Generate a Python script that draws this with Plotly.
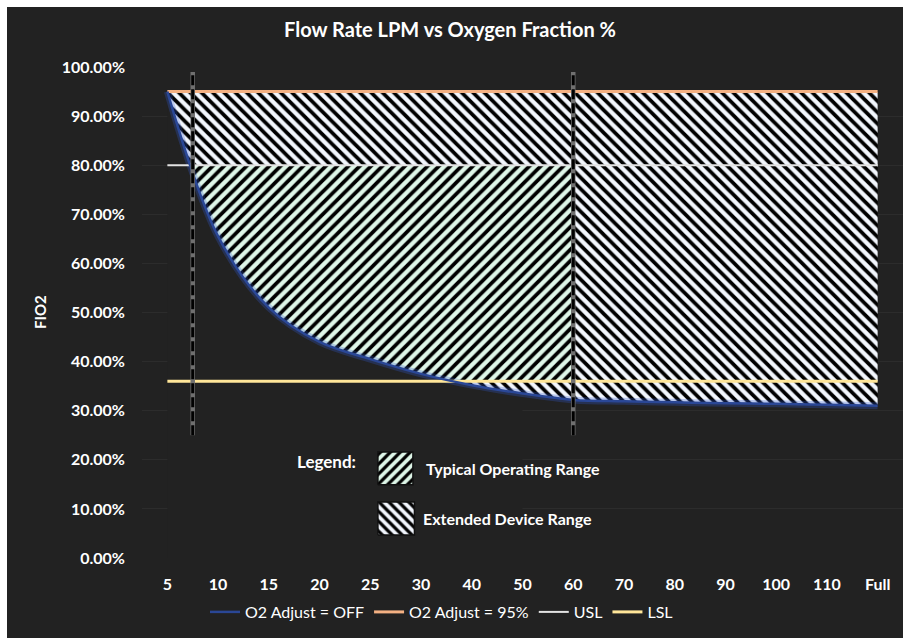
import numpy as np
import plotly.graph_objects as go

# ---- data -------------------------------------------------------------
flow_labels = ["5", "10", "15", "20", "25", "30", "40", "50", "60",
               "70", "80", "90", "100", "110", "Full"]
flow_lpm = [5, 10, 15, 20, 25, 30, 40, 50, 60, 70, 80, 90, 100, 110]
fio2_o2_off = [0.950, 0.655, 0.510, 0.440, 0.405, 0.375, 0.352, 0.335,
               0.322, 0.319, 0.317, 0.315, 0.314, 0.312, 0.310]
fio2_o2_95 = [0.95, 0.95, 0.95, 0.95, 0.95, 0.95, 0.95, 0.95,
              0.95, 0.95, 0.95, 0.95, 0.95, 0.95, 0.95]
usl = 0.80
lsl = 0.36
typical_flow_range = [7.5, 60]      # LPM bounds of the typical operating range
marker_fio2_span = [0.25, 0.99]     # vertical extent of the range marker lines

# ---- styling ----------------------------------------------------------
BG = "#222222"
FONT = "Lato"
HATCH_FG = "#000000"
EXT_BG = "#f2f6fd"
TYP_BG = "#def6e8"
HATCH = dict(fgcolor=HATCH_FG, fgopacity=1, size=8, solidity=0.47)

xi = list(range(len(flow_labels)))
n = len(xi)
bound_idx = np.interp(typical_flow_range, flow_lpm, list(range(len(flow_lpm))))
x_lo, x_hi = float(bound_idx[0]), float(bound_idx[1])

fig = go.Figure()

# extended device range: between the O2-off curve and the 95% curve
fig.add_trace(go.Scatter(x=xi, y=fio2_o2_95, mode="lines", line=dict(width=0),
                         showlegend=False, hoverinfo="skip"))
fig.add_trace(go.Scatter(x=xi, y=fio2_o2_off, mode="lines",
                         line=dict(width=0, shape="spline"), fill="tonexty",
                         fillcolor=EXT_BG,
                         fillpattern=dict(shape="\\", bgcolor=EXT_BG, **HATCH),
                         showlegend=False, hoverinfo="skip"))

# typical operating range: LSL..USL between the two marker flows
fig.add_trace(go.Scatter(x=[x_lo, x_hi, x_hi, x_lo, x_lo], y=[lsl, lsl, usl, usl, lsl],
                         mode="lines", line=dict(width=0), fill="toself",
                         fillcolor=TYP_BG,
                         fillpattern=dict(shape="/", bgcolor=TYP_BG, **HATCH),
                         showlegend=False, hoverinfo="skip"))

# keep everything under the O2-off curve dark
fig.add_trace(go.Scatter(x=xi[:8], y=fio2_o2_off[:8], mode="lines",
                         line=dict(width=0, shape="spline"), fill="tozeroy",
                         fillcolor=BG, showlegend=False, hoverinfo="skip"))

# soft glow along the O2-off curve
fig.add_trace(go.Scatter(x=xi, y=fio2_o2_off, mode="lines",
                         line=dict(width=7, shape="spline", color="rgba(50,90,210,0.28)"),
                         showlegend=False, hoverinfo="skip"))

fig.add_trace(go.Scatter(x=xi, y=[usl] * n, mode="lines", name="USL",
                         line=dict(color="#e3e3e3", width=2), legendrank=3))
fig.add_trace(go.Scatter(x=xi, y=[lsl] * n, mode="lines", name="LSL",
                         line=dict(color="#ffe699", width=3), legendrank=4))
fig.add_trace(go.Scatter(x=xi, y=fio2_o2_95, mode="lines", name="O2 Adjust = 95%",
                         line=dict(color="#f4b183", width=3), legendrank=2))
fig.add_trace(go.Scatter(x=xi, y=fio2_o2_off, mode="lines", name="O2 Adjust = OFF",
                         line=dict(color="#2a4796", width=2.5, shape="spline"),
                         legendrank=1))

# ---- hatched swatches for the range legend (overlay axes, unit box) ----
swatches = [
    ("/", TYP_BG, 0.310, 0.356, 0.149, 0.216),
    ("\\", EXT_BG, 0.310, 0.358, 0.047, 0.114),
]
for shp, bg, sx0, sx1, sy0, sy1 in swatches:
    fig.add_trace(go.Scatter(x=[sx0, sx1, sx1, sx0, sx0], y=[sy0, sy0, sy1, sy1, sy0],
                             xaxis="x2", yaxis="y2", mode="lines",
                             line=dict(width=1.5, color="#111111"), fill="toself",
                             fillcolor=bg,
                             fillpattern=dict(shape=shp, bgcolor=bg, fgcolor=HATCH_FG,
                                              fgopacity=1, size=7, solidity=0.47),
                             showlegend=False, hoverinfo="skip"))

# ---- range marker lines -------------------------------------------------
shapes = []
for xb in (x_lo, x_hi):
    shapes.append(dict(type="line", xref="x", yref="y", x0=xb, x1=xb,
                       y0=marker_fio2_span[0], y1=marker_fio2_span[1],
                       line=dict(color="#707070", width=4.5), layer="above"))
    shapes.append(dict(type="line", xref="x", yref="y", x0=xb, x1=xb,
                       y0=marker_fio2_span[0], y1=marker_fio2_span[1],
                       line=dict(color="#000000", width=3, dash="10px,4px"),
                       layer="above"))

# white frame strips on the left and top edge of the canvas
W, H = 903, 638
ML, MR, MT, MB = 142, 0, 67, 80
pw, ph = W - ML - MR, H - MT - MB
def px_x(p):
    return (p - ML) / pw
def px_y(p):
    return (H - MB - p) / ph
shapes.append(dict(type="rect", xref="paper", yref="paper", layer="below",
                   x0=px_x(0), x1=px_x(7), y0=px_y(H), y1=px_y(0),
                   fillcolor="white", line=dict(width=0)))
shapes.append(dict(type="rect", xref="paper", yref="paper", layer="below",
                   x0=px_x(0), x1=px_x(W), y0=px_y(7), y1=px_y(0),
                   fillcolor="white", line=dict(width=0)))

annotations = [
    dict(text="FIO2", xref="paper", yref="paper", x=px_x(40), y=px_y(312),
         xanchor="center", yanchor="middle", textangle=-90, showarrow=False,
         font=dict(family=FONT, size=15, color="white", weight="bold")),
    dict(text="Legend:", xref="paper", yref="paper", x=px_x(326), y=px_y(461),
         xanchor="center", yanchor="middle", showarrow=False,
         font=dict(family=FONT, size=17, color="white", weight="bold")),
    dict(text="Typical Operating Range", xref="paper", yref="paper", x=px_x(424),
         y=px_y(468), xanchor="left", yanchor="middle", showarrow=False,
         font=dict(family=FONT, size=16, color="white", weight="bold")),
    dict(text="Extended Device Range", xref="paper", yref="paper", x=px_x(421),
         y=px_y(518), xanchor="left", yanchor="middle", showarrow=False,
         font=dict(family=FONT, size=16, color="white", weight="bold")),
]

fig.update_layout(
    width=W, height=H,
    margin=dict(l=ML, r=MR, t=MT, b=MB),
    paper_bgcolor=BG, plot_bgcolor="rgba(0,0,0,0)",
    font=dict(family=FONT, color="white"),
    title=dict(text="Flow Rate LPM vs Oxygen Fraction %", x=450 / W, xref="container",
               xanchor="center", y=1 - 30 / H, yref="container", yanchor="middle",
               font=dict(family=FONT, size=20, color="white", weight="bold")),
    xaxis=dict(range=[-0.5, n - 0.5], tickvals=xi, ticktext=flow_labels,
               showgrid=False, zeroline=False, showline=False, ticks="",
               ticklabelstandoff=15,
               tickfont=dict(family=FONT, size=16, color="white", weight="bold")),
    yaxis=dict(range=[0, 1], dtick=0.1, tickformat=".2%", showgrid=True,
               gridcolor="#2c2c2c", gridwidth=1, zeroline=False, showline=False,
               ticks="", ticklabelstandoff=16,
               tickfont=dict(family=FONT, size=16, color="white", weight="bold")),
    xaxis2=dict(domain=[0, 1], range=[0, 1], overlaying="x", anchor="y2",
                visible=False, fixedrange=True),
    yaxis2=dict(domain=[0, 1], range=[0, 1], overlaying="y", anchor="x2",
                visible=False, fixedrange=True),
    legend=dict(orientation="h", x=px_x(205), xanchor="left", y=px_y(612),
                yanchor="middle", bgcolor="rgba(0,0,0,0)",
                font=dict(family=FONT, size=16, color="white"),
                traceorder="normal"),
    shapes=shapes,
    annotations=annotations,
    showlegend=True,
)

fig.write_html("out.html")
